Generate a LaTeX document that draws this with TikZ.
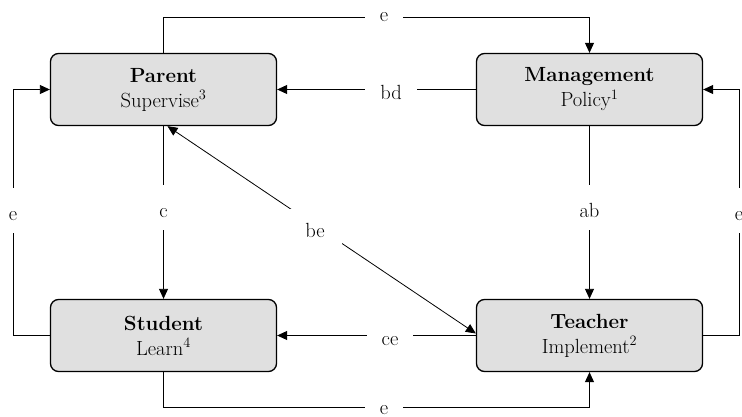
\documentclass[tikz,border=0pt]{standalone}
\usetikzlibrary{arrows.meta}
\definecolor{boxgray}{HTML}{E0E0E0}
\begin{document}
\begin{tikzpicture}[x=1pt,y=-1pt,
  box/.style={draw, line width=1.3pt, rounded corners=8pt, fill=boxgray,
    minimum width=226pt, minimum height=72pt, align=center, inner sep=0pt,
    font=\fontsize{20.5}{25}\selectfont},
  con/.style={line width=0.8pt},
  arr/.style={con, -{Triangle[length=10pt,width=9pt]}},
  arrtwo/.style={con, {Triangle[length=10pt,width=9pt]}-{Triangle[length=10pt,width=9pt]}},
  hl/.style={fill=white, anchor=base, inner xsep=15pt, inner ysep=2pt,
    font=\fontsize{20.5}{24}\selectfont},
  vl/.style={fill=white, anchor=base, inner xsep=3pt, inner ysep=0pt,
    text height=32pt, text depth=13pt, font=\fontsize{20.5}{24}\selectfont}]
\useasboundingbox (0,0) rectangle (742,417);

\node[box] (P) at (163.5,89.5) {\textbf{Parent}\\Supervise\textsuperscript{3}};
\node[box] (M) at (589.5,89.5) {\textbf{Management}\\Policy\textsuperscript{1}};
\node[box] (S) at (163.5,335.5) {\textbf{Student}\\Learn\textsuperscript{4}};
\node[box] (T) at (589.5,335.5) {\textbf{Teacher}\\Implement\textsuperscript{2}};

\coordinate (ty) at (0,17);
\coordinate (by) at (0,407);
\coordinate (lx) at (13,0);
\coordinate (rx) at (739,0);

\draw[arr] (P.north) -- (P.north |- ty) -| (M.north);
\draw[arr] (M.west) -- (P.east);
\draw[arr] (S.west) -- (S.west -| lx) |- (P.west);
\draw[arr] (P.south) -- (S.north);
\draw[arrtwo] ([xshift=4pt]P.south) -- ([yshift=2pt]T.west);
\draw[arr] (M.south) -- (T.north);
\draw[arr] (T.east) -- (T.east -| rx) |- (M.east);
\draw[arr] (T.west) -- (S.east);
\draw[arr] (S.south) -- (S.south |- by) -| (T.south);

\node[hl] (le1) at (384,22) {e};
\node[hl] (lbd) at (391,100) {bd};
\node[hl] (lce) at (390,345) {ce};
\node[hl] (le4) at (384,414) {e};
\node[vl] (lc) at (163.5,217) {c};
\node[vl] (lab) at (589.5,217) {ab};
\node[vl] (le2) at (13,220) {e};
\node[vl] (le3) at (739,220) {e};
\node[vl, text height=28pt, text depth=9pt, inner xsep=17pt] (lbe) at (315,237) {be};
\end{tikzpicture}
\end{document}
